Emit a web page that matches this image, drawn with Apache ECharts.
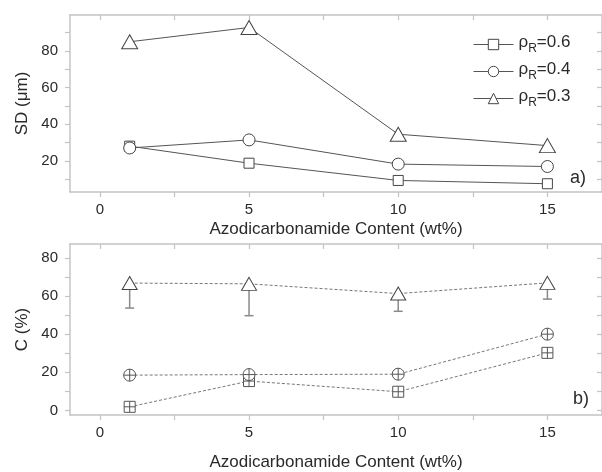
<!DOCTYPE html>
<html>
<head>
<meta charset="utf-8">
<script src="https://cdn.jsdelivr.net/npm/echarts@6/dist/echarts.min.js"></script>
<style>
  html, body { margin: 0; padding: 0; background: #fff; }
</style>
</head>
<body>
<div id="chart" style="width:602px;height:472px;"></div>
<script>
// data
const contents = [1, 5, 10, 15];
const sd06 = [28, 18.7, 9.3, 7.5];
const sd04 = [27, 31.4, 18.2, 16.9];
const sd03 = [84.9, 92.7, 34.5, 28.3];
const c06 = [1.9, 15.4, 9.8, 30.2];
const c04 = [18.5, 18.8, 19, 40];
const c03 = [66.8, 66.4, 61.3, 66.9];
const c03Low = [53.7, 49.7, 52, 58.4];

const xTicks = [0, 2.5, 5, 7.5, 10, 12.5, 15];
const xLabels = [0, 5, 10, 15];
const sdTicks = [10, 20, 30, 40, 50, 60, 70, 80, 90];
const sdLabels = [20, 40, 60, 80];
const cTicks = [0, 10, 20, 30, 40, 50, 60, 70, 80];
const cLabels = [0, 20, 40, 60, 80];

const FONT = 'Liberation Sans, Arial, sans-serif';
const frame = '#c4c4c4';
const txt = '#2a2a2a';

// open markers with a cross inside (lower panel)
const squarePlus = 'path://M0,0H10V10H0Z M5,0V10 M0,5H10';
const circlePlus = 'path://M0,5A5,5 0 1,1 10,5A5,5 0 1,1 0,5Z M5,0V10 M0,5H10';

const pairs = (ys) => contents.map((x, i) => [x, ys[i]]);

function xAx(grid, bottom, showName, gap) {
  return {
    type: 'value', gridIndex: grid, position: bottom ? 'bottom' : 'top',
    min: -1, max: 16.83,
    axisLine: { show: true, onZero: false, lineStyle: { color: frame, width: 1.5 } },
    axisTick: { show: true, inside: !bottom, length: 5, customValues: xTicks, lineStyle: { color: frame, width: 1.2 } },
    axisLabel: { show: bottom, customValues: xLabels, fontSize: 15, color: txt, fontFamily: FONT, margin: 10 },
    splitLine: { show: false },
    name: showName ? 'Azodicarbonamide Content (wt%)' : '',
    nameLocation: 'middle', nameGap: gap,
    nameTextStyle: { fontSize: 17, color: txt, fontFamily: FONT }
  };
}

function yAx(grid, left, min, max, ticks, labels, name) {
  return {
    type: 'value', gridIndex: grid, position: left ? 'left' : 'right',
    min: min, max: max,
    axisLine: { show: true, onZero: false, lineStyle: { color: frame, width: 1.5 } },
    axisTick: { show: true, inside: !left, length: 5, customValues: ticks, lineStyle: { color: frame, width: 1.2 } },
    axisLabel: { show: left, customValues: labels, fontSize: 15, color: txt, fontFamily: FONT, margin: 12 },
    splitLine: { show: false },
    name: left ? name : '',
    nameLocation: 'middle', nameGap: 38, nameRotate: 90,
    nameTextStyle: { fontSize: 17, color: txt, fontFamily: FONT }
  };
}

const solid = { color: '#555', width: 1 };
const dashed = { color: '#777', width: 1, type: [3, 2] };
const mk = { color: '#fff', borderColor: '#444', borderWidth: 1 };

const option = {
  backgroundColor: '#fff',
  animation: false,
  grid: [
    { left: 70, top: 15, width: 533, height: 177 },
    { left: 70, top: 244, width: 533, height: 176 }
  ],
  xAxis: [
    xAx(0, true, true, 29),
    xAx(0, false, false, 0),
    xAx(1, true, true, 39),
    xAx(1, false, false, 0)
  ],
  yAxis: [
    yAx(0, true, 3, 99.5, sdTicks, sdLabels, 'SD (\u03bcm)'),
    yAx(0, false, 3, 99.5, sdTicks, sdLabels, ''),
    yAx(1, true, -2.4, 87.3, cTicks, cLabels, 'C (%)'),
    yAx(1, false, -2.4, 87.3, cTicks, cLabels, '')
  ],
  legend: {
    orient: 'vertical', left: 468, top: 29,
    itemWidth: 40, itemHeight: 13, itemGap: 6,
    lineStyle: { width: 1 },
    itemStyle: { borderWidth: 1 },
    data: ['\u03c1R=0.6', '\u03c1R=0.4', '\u03c1R=0.3'],
    formatter: (name) => '{a|\u03c1}{s|R}{a|' + name.slice(2) + '}',
    textStyle: {
      rich: {
        a: { fontSize: 17, color: txt, fontFamily: FONT, verticalAlign: 'top', lineHeight: 21 },
        s: { fontSize: 12, color: txt, fontFamily: FONT, verticalAlign: 'bottom', lineHeight: 12 }
      }
    }
  },
  graphic: [
    { type: 'text', left: 570, top: 169, style: { text: 'a)', fontSize: 18, fill: txt, fontFamily: FONT } },
    { type: 'text', left: 573, top: 390, style: { text: 'b)', fontSize: 18, fill: txt, fontFamily: FONT } }
  ],
  series: [
    { name: '\u03c1R=0.6', type: 'line', xAxisIndex: 0, yAxisIndex: 0, data: pairs(sd06),
      symbol: 'rect', symbolSize: 10, lineStyle: solid, itemStyle: mk },
    { name: '\u03c1R=0.4', type: 'line', xAxisIndex: 0, yAxisIndex: 0, data: pairs(sd04),
      symbol: 'circle', symbolSize: 12, lineStyle: solid, itemStyle: mk },
    { name: '\u03c1R=0.3', type: 'line', xAxisIndex: 0, yAxisIndex: 0, data: pairs(sd03),
      symbol: 'triangle', symbolSize: [16, 14], lineStyle: solid, itemStyle: mk },

    { name: 'err', type: 'custom', xAxisIndex: 2, yAxisIndex: 2, z: 1, silent: true,
      data: contents.map((x, i) => [x, c03[i], c03Low[i]]),
      renderItem: (params, api) => {
        const p = api.coord([api.value(0), api.value(1)]);
        const q = api.coord([api.value(0), api.value(2)]);
        const st = { stroke: '#8a8a8a', lineWidth: 1.5 };
        return { type: 'group', children: [
          { type: 'line', shape: { x1: p[0], y1: p[1], x2: q[0], y2: q[1] }, style: st },
          { type: 'line', shape: { x1: q[0] - 4.5, y1: q[1], x2: q[0] + 4.5, y2: q[1] }, style: st }
        ] };
      }
    },
    { name: 'C06', type: 'line', xAxisIndex: 2, yAxisIndex: 2, data: pairs(c06),
      symbol: squarePlus, symbolSize: 11, lineStyle: dashed, itemStyle: { color: '#fff', borderColor: '#555', borderWidth: 1 } },
    { name: 'C04', type: 'line', xAxisIndex: 2, yAxisIndex: 2, data: pairs(c04),
      symbol: circlePlus, symbolSize: 12, lineStyle: dashed, itemStyle: { color: '#fff', borderColor: '#555', borderWidth: 1 } },
    { name: 'C03', type: 'line', xAxisIndex: 2, yAxisIndex: 2, data: pairs(c03),
      symbol: 'triangle', symbolSize: [15, 13], lineStyle: dashed, itemStyle: mk }
  ]
};

const chart = echarts.init(document.getElementById('chart'));
chart.setOption(option);
</script>
</body>
</html>
